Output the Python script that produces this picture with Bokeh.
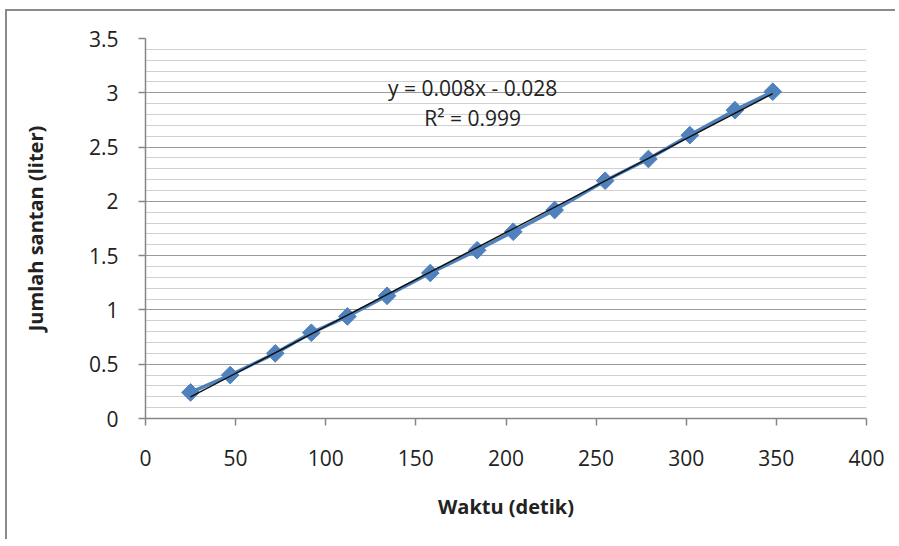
import numpy as np
from bokeh.plotting import figure
from bokeh.models import FixedTicker, Label
from bokeh.embed import file_html
from bokeh.resources import INLINE

# data
waktu = [25, 47, 72, 92, 112, 134, 158, 184, 204, 227, 255, 279, 302, 327, 348]
santan = [0.24, 0.40, 0.60, 0.79, 0.94, 1.13, 1.34, 1.55, 1.72, 1.92, 2.19, 2.39, 2.61, 2.84, 3.01]
x_ticks = [0, 50, 100, 150, 200, 250, 300, 350, 400]
y_ticks = [0, 0.5, 1, 1.5, 2, 2.5, 3, 3.5]
y_tick_labels = ["0", "0.5", "1", "1.5", "2", "2.5", "3", "3.5"]
y_minor = [round(i * 0.1, 1) for i in range(1, 35) if i % 5 != 0]
eq_text = "y = 0.008x - 0.028"
r2_text = "R\u00b2 = 0.999"

FONT = "Open Sans"
TXT = "#222222"

W, H = 890, 530
left, top = 138, 27
fw, fh = 721, 380

p = figure(width=W, height=H, x_range=(0, 400), y_range=(0, 3.5),
           output_backend="svg", toolbar_location=None,
           min_border_left=left, min_border_right=W - left - fw,
           min_border_top=top, min_border_bottom=H - top - fh)
p.styles = {"border-left": "2px solid #8a8a8a", "border-top": "2px solid #8a8a8a",
            "margin-left": "5px", "margin-top": "9px"}
p.outline_line_color = None
p.background_fill_color = "white"

# axes
p.xaxis.ticker = FixedTicker(ticks=x_ticks)
p.yaxis.ticker = FixedTicker(ticks=y_ticks, minor_ticks=y_minor)
p.yaxis.major_label_overrides = {t: l for t, l in zip(y_ticks, y_tick_labels)}
for ax in (p.xaxis[0], p.yaxis[0]):
    ax.axis_line_color = "#868686"
    ax.axis_line_width = 1.5
    ax.major_tick_line_color = "#868686"
    ax.major_tick_line_width = 1.5
    ax.major_tick_out = 7
    ax.major_tick_in = 0
    ax.minor_tick_line_color = None
    ax.major_label_text_font = FONT
    ax.major_label_text_font_size = "21px"
    ax.major_label_text_color = TXT
    ax.axis_label_text_font = FONT
    ax.axis_label_text_font_style = "bold"
    ax.axis_label_text_font_size = "20px"
    ax.axis_label_text_color = TXT

p.xaxis.axis_label = "Waktu (detik)"
p.yaxis.axis_label = "Jumlah santan (liter)"
p.xaxis.major_label_standoff = 24
p.xaxis.axis_label_standoff = 24
p.yaxis.major_label_standoff = 20
p.yaxis.axis_label_standoff = 37

# grid
p.xgrid.grid_line_color = None
p.ygrid.ticker = FixedTicker(ticks=y_ticks, minor_ticks=y_minor)
p.ygrid.grid_line_color = "#9a9a9a"
p.ygrid.grid_line_width = 1.2
p.ygrid.minor_grid_line_color = "#d0d0d0"
p.ygrid.minor_grid_line_width = 1.2

# series
p.line(waktu, santan, line_color="#4f81bd", line_width=3.5)
p.scatter(waktu, santan, marker="square", angle=np.pi / 4, size=12.5,
          fill_color="#4f81bd", line_color="#4f81bd", line_width=1)

# linear trendline (least squares on the data)
slope, intercept = np.polyfit(waktu, santan, 1)
tx = np.array([min(waktu), max(waktu)])
p.line(tx, slope * tx + intercept, line_color="#111111", line_width=1.5)

# equation labels
for txt, yy in ((eq_text, 3.04), (r2_text, 2.77)):
    p.add_layout(Label(x=181.5, y=yy, text=txt, text_align="center", text_baseline="middle",
                       text_font=FONT, text_font_size="21px", text_color=TXT))

open("out.html", "w").write(file_html(p, INLINE))
